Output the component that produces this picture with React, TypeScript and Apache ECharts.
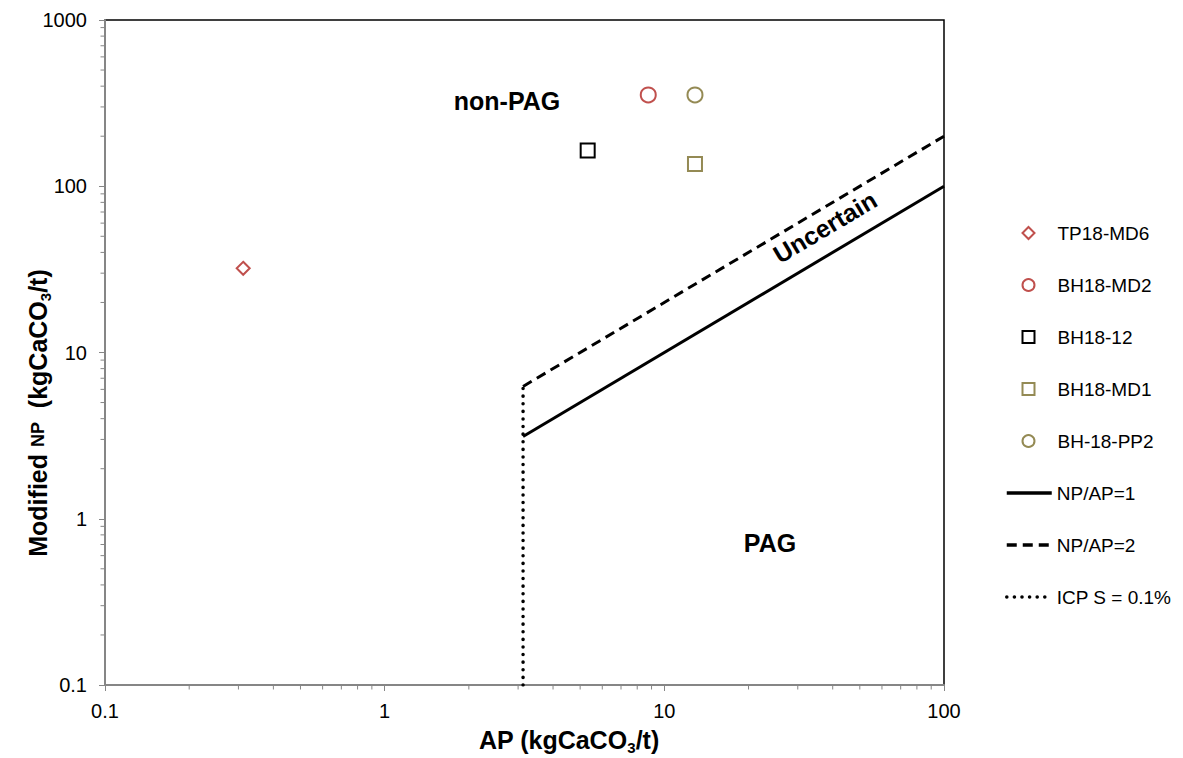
import React, { useEffect, useRef } from "react";
import * as echarts from "echarts";

// ---- data ----
const sampleNames = ["TP18-MD6", "BH18-MD2", "BH18-12", "BH18-MD1", "BH-18-PP2"];
const sampleAP = [0.312, 8.76, 5.32, 12.87, 12.87];
const sampleNP = [32.1, 354, 164, 136, 354];
const sampleSymbols = ["diamond", "circle", "rect", "rect", "circle"];
const sampleColors = ["#C0504D", "#C0504D", "#000000", "#948A54", "#948A54"];
const sampleSizes = [13, 15, 14, 14, 15];

const lineNames = ["NP/AP=1", "NP/AP=2", "ICP S = 0.1%"];
const ratio1AP = [3.125, 100];
const ratio1NP = [3.125, 100];
const ratio2AP = [3.125, 100];
const ratio2NP = [6.25, 200];
const icpAP = [3.125, 3.125];
const icpNP = [0.1, 6.25];

const xMin = 0.1;
const xMax = 100;
const yMin = 0.1;
const yMax = 1000;
const xMinorTicks = [0.2, 0.3, 0.4, 0.5, 0.6, 0.7, 0.8, 0.9, 2, 3, 4, 5, 6, 7, 8, 9, 20, 30, 40, 50, 60, 70, 80, 90];
const yMinorTicks = [0.2, 0.3, 0.4, 0.5, 0.6, 0.7, 0.8, 0.9, 2, 3, 4, 5, 6, 7, 8, 9, 20, 30, 40, 50, 60, 70, 80, 90, 200, 300, 400, 500, 600, 700, 800, 900];

const FONT = "Liberation Sans, Arial, sans-serif";
const AXIS_GRAY = "#868686";

export default function App() {
  const ref = useRef<HTMLDivElement>(null);

  useEffect(() => {
    if (!ref.current) return;
    const chart = echarts.init(ref.current, undefined, { renderer: "svg" });

    const scatterSeries = sampleNames.map((name, i) => ({
      name,
      type: "scatter",
      symbol: sampleSymbols[i],
      symbolSize: sampleSizes[i],
      itemStyle: { color: "#ffffff", borderColor: sampleColors[i], borderWidth: 2, opacity: 1 },
      data: [[sampleAP[i], sampleNP[i]]],
      z: 5,
    }));

    const lineSeries = [
      {
        name: lineNames[0],
        type: "line",
        symbol: "none",
        itemStyle: { color: "#000" },
        lineStyle: { color: "#000", width: 3, type: "solid" },
        data: ratio1AP.map((v, i) => [v, ratio1NP[i]]),
        z: 3,
      },
      {
        name: lineNames[1],
        type: "line",
        symbol: "none",
        itemStyle: { color: "#000" },
        lineStyle: { color: "#000", width: 3, type: [10, 6] },
        data: ratio2AP.map((v, i) => [v, ratio2NP[i]]),
        z: 3,
      },
      {
        name: lineNames[2],
        type: "line",
        symbol: "none",
        itemStyle: { color: "#000" },
        lineStyle: { color: "#000", width: 3.5, type: [0.1, 7.5], cap: "round" },
        data: icpAP.map((v, i) => [v, icpNP[i]]),
        z: 3,
      },
    ];

    const minorTickSeries = [
      {
        type: "custom",
        silent: true,
        clip: false,
        data: xMinorTicks.map((v) => [v, yMin]),
        renderItem: (params: any, api: any) => {
          const p = api.coord([api.value(0), api.value(1)]);
          return {
            type: "line",
            shape: { x1: p[0], y1: p[1], x2: p[0], y2: p[1] + 4.5 },
            style: { stroke: AXIS_GRAY, lineWidth: 1 },
          };
        },
        z: 1,
      },
      {
        type: "custom",
        silent: true,
        clip: false,
        data: yMinorTicks.map((v) => [xMin, v]),
        renderItem: (params: any, api: any) => {
          const p = api.coord([api.value(0), api.value(1)]);
          return {
            type: "line",
            shape: { x1: p[0] - 4.5, y1: p[1], x2: p[0], y2: p[1] },
            style: { stroke: AXIS_GRAY, lineWidth: 1 },
          };
        },
        z: 1,
      },
    ];

    const fmt = (v: number) => String(Number(v.toPrecision(6)));

    const boldRich = {
      b: { fontSize: 25, fontWeight: "bold", fontFamily: FONT, color: "#000", lineHeight: 30, verticalAlign: "middle" },
      s: { fontSize: 18, fontWeight: "bold", fontFamily: FONT, color: "#000", lineHeight: 30, verticalAlign: "middle" },
      sub: { fontSize: 15, fontWeight: "bold", fontFamily: FONT, color: "#000", lineHeight: 24, verticalAlign: "bottom", padding: [9, 0, 0, 0] },
    };

    const legendText = { fontSize: 19, color: "#000", fontFamily: FONT, lineHeight: 20 };
    const annot = { fontSize: 25, fontWeight: "bold", fontFamily: FONT, fill: "#000", align: "center", verticalAlign: "middle" };

    chart.setOption({
      animation: false,
      backgroundColor: "#ffffff",
      textStyle: { fontFamily: FONT },
      grid: {
        left: 105,
        right: 239,
        top: 20,
        bottom: 73,
        show: true,
        borderColor: "#000",
        borderWidth: 1.5,
        backgroundColor: "transparent",
      },
      xAxis: {
        type: "log",
        logBase: 10,
        min: xMin,
        max: xMax,
        axisLine: { show: true, lineStyle: { color: AXIS_GRAY, width: 2 } },
        axisTick: { show: true, inside: false, length: 6, lineStyle: { color: AXIS_GRAY, width: 1 } },
        minorTick: { show: false },
        splitLine: { show: false },
        axisLabel: { fontSize: 20, color: "#000", margin: 16, fontFamily: FONT, formatter: fmt, showMinLabel: true, showMaxLabel: true },
      },
      yAxis: {
        type: "log",
        logBase: 10,
        min: yMin,
        max: yMax,
        axisLine: { show: true, lineStyle: { color: AXIS_GRAY, width: 2 } },
        axisTick: { show: true, inside: false, length: 6, lineStyle: { color: AXIS_GRAY, width: 1 } },
        minorTick: { show: false },
        splitLine: { show: false },
        axisLabel: { fontSize: 20, color: "#000", margin: 18, fontFamily: FONT, formatter: fmt, showMinLabel: true, showMaxLabel: true },
      },
      legend: [
        {
          orient: "vertical",
          left: 1021.5,
          top: 223,
          padding: 0,
          itemWidth: 12,
          itemHeight: 12,
          itemGap: 32,
          formatter: "{a|{name}}",
          textStyle: { ...legendText, rich: { a: { ...legendText, padding: [0, 0, 0, 18] } } },
          data: sampleNames.map((name, i) => ({
            name,
            itemStyle: { color: "#ffffff", borderColor: sampleColors[i], borderWidth: 2 },
          })),
        },
        {
          orient: "vertical",
          left: 1005,
          top: 223 + 5 * 52,
          padding: 0,
          itemWidth: 45,
          itemHeight: 12,
          itemGap: 32,
          textStyle: legendText,
          lineStyle: { width: 3.5 },
          data: lineNames.map((name) => ({
            name,
            itemStyle: { color: "transparent", borderColor: "transparent", borderWidth: 0, opacity: 0 },
          })),
        },
      ],
      graphic: [
        { type: "text", x: 507, y: 101, style: { ...annot, text: "non-PAG" } },
        { type: "text", x: 770, y: 543, style: { ...annot, text: "PAG" } },
        {
          type: "text",
          x: 825,
          y: 227,
          rotation: (30.7 * Math.PI) / 180,
          style: { ...annot, text: "Uncertain" },
        },
        {
          type: "text",
          x: 569,
          y: 740,
          style: {
            text: "{b|AP (kgCaCO}{sub|3}{b|/t)}",
            rich: boldRich,
            align: "center",
            verticalAlign: "middle",
          },
        },
        {
          type: "text",
          x: 38,
          y: 413,
          rotation: Math.PI / 2,
          style: {
            text: "{b|Modified }{s|NP}{b|  (kgCaCO}{sub|3}{b|/t)}",
            rich: boldRich,
            align: "center",
            verticalAlign: "middle",
          },
        },
      ],
      series: [...scatterSeries, ...lineSeries, ...minorTickSeries],
    });

    return () => chart.dispose();
  }, []);

  return <div ref={ref} style={{ width: 1183, height: 758, position: "absolute", left: 0, top: 0 }} />;
}
